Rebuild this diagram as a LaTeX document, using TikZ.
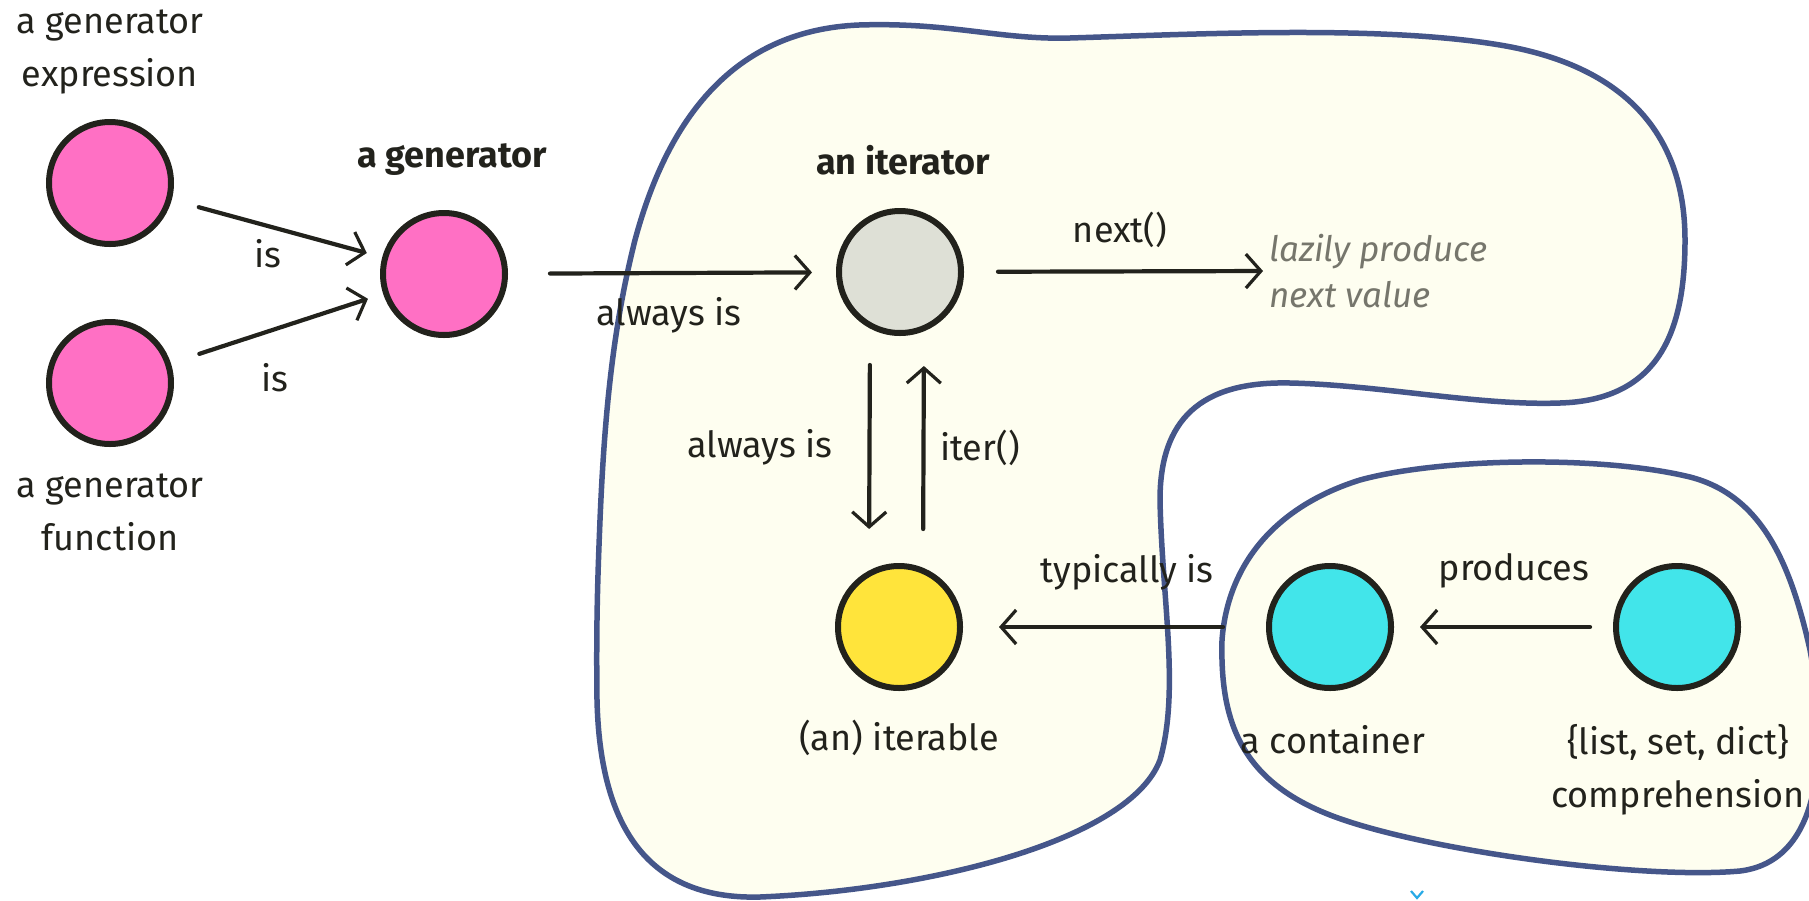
\documentclass[tikz,border=0pt]{standalone}
\usepackage{fontspec}
\setmainfont{Fira Sans}
\usetikzlibrary{arrows.meta}

\definecolor{inkc}{RGB}{34,34,28}
\definecolor{pinkc}{RGB}{255,112,196}
\definecolor{greyc}{RGB}{222,224,214}
\definecolor{yellowc}{RGB}{255,228,59}
\definecolor{cyanc}{RGB}{66,229,234}
\definecolor{blobfill}{RGB}{254,254,240}
\definecolor{blobline}{RGB}{69,86,138}
\definecolor{notec}{RGB}{118,118,108}
\definecolor{markc}{RGB}{40,170,230}

\tikzset{
  blob/.style={draw=blobline, fill=blobfill, line width=5.5pt},
  dot/.style={circle, draw=inkc, line width=6pt, minimum size=122pt, inner sep=0pt},
  lbl/.style={text=inkc, font=\fontsize{36}{53}\selectfont, align=center, inner sep=0pt},
  blbl/.style={lbl, font=\fontsize{36}{53}\selectfont\bfseries},
  note/.style={text=notec, font=\fontsize{35}{46}\selectfont\itshape, align=left, inner sep=0pt, anchor=west},
  arr/.style={draw=inkc, line width=4.2pt, line cap=round,
    -{Straight Barb[length=15pt, width=34pt, line width=3.2pt]}}
}

\begin{document}
\begin{tikzpicture}[x=1pt, y=-1pt]
  \useasboundingbox (0,0) rectangle (1809,900);
  \clip (0,0) rectangle (1809,900);

  % iterator region
  \draw[blob] (600,520)
    .. controls (605,400) and (615,320) .. (635,240)
    .. controls (670,110) and (740,30) .. (859,25)
    .. controls (950,22) and (1000,40) .. (1070,38)
    .. controls (1200,34) and (1380,25) .. (1500,45)
    .. controls (1620,65) and (1685,130) .. (1685,240)
    .. controls (1685,330) and (1660,400) .. (1560,403)
    .. controls (1480,406) and (1380,385) .. (1290,383)
    .. controls (1200,381) and (1160,420) .. (1160,500)
    .. controls (1162,600) and (1180,690) .. (1160,760)
    .. controls (1130,840) and (930,890) .. (760,897)
    .. controls (650,900) and (600,830) .. (597,700)
    .. controls (596,620) and (598,570) .. (600,520) -- cycle;

  % container region
  \draw[blob] (1222,640)
    .. controls (1228,560) and (1280,505) .. (1360,480)
    .. controls (1440,458) and (1600,455) .. (1690,477)
    .. controls (1760,495) and (1790,560) .. (1810,650)
    .. controls (1825,730) and (1830,860) .. (1740,871)
    .. controls (1640,880) and (1420,850) .. (1330,815)
    .. controls (1240,780) and (1220,720) .. (1222,640) -- cycle;

  % small mark at the lower edge
  \draw[markc, line width=2.2pt] (1411,891) -- (1417,898) -- (1423,891);

  % nodes
  \node[dot, fill=pinkc]   (ge)    at (110,183) {};
  \node[dot, fill=pinkc]   (gf)    at (110,383) {};
  \node[dot, fill=pinkc]   (gen)   at (444,274) {};
  \node[dot, fill=greyc]   (iter)  at (900,272) {};
  \node[dot, fill=yellowc] (itb)   at (899,627) {};
  \node[dot, fill=cyanc]   (cont)  at (1330,627) {};
  \node[dot, fill=cyanc]   (comp)  at (1677,627) {};

  % node captions
  \node[lbl]  (gelbl)   at (110,52)  {a generator\\expression};
  \node[lbl]  (gflbl)   at (110,512) {a generator\\function};
  \node[blbl] (genlbl)  at (452,160) {a generator};
  \node[blbl] (iterlbl) at (903,160) {an iterator};
  \node[lbl]  (itblbl)  at (899,738) {(an) iterable};
  \node[lbl]  (contlbl) at (1333,740) {a container};
  \node[lbl]  (complbl) at (1678,770) {\{list, set, dict\}\\comprehension};
  \node[note] (lazy)    at (1269,271) {lazily produce\\next value};

  % connectors
  \draw[arr, shorten <=28pt, shorten >=16pt] (ge) -- (gen);
  \draw[arr, shorten <=30pt, shorten >=16pt] (gf) -- (gen);
  \draw[arr, shorten <=42pt, shorten >=24pt] (gen) -- (iter);
  \draw[arr, shorten <=34pt, shorten >=6pt]  (iter) -- (lazy.west);
  \draw[arr, shorten <=29pt, shorten >=34pt]
    ([xshift=-30pt]iter.south) -- ([xshift=-30pt]itb.north);
  \draw[arr, shorten <=34pt, shorten >=30pt]
    ([xshift=24pt]itb.north) -- ([xshift=24pt]iter.south);
  \draw[arr, shorten <=43pt, shorten >=36pt] (cont) -- (itb);
  \draw[arr, shorten <=23pt, shorten >=26pt] (comp) -- (cont);

  % connector labels
  \node[lbl] (is1)   at (268,254) {is};
  \node[lbl] (is2)   at (275,378) {is};
  \node[lbl] (alw1)  at (669,315) {always is};
  \node[lbl] (nxt)   at (1120,230) {next()};
  \node[lbl] (alw2)  at (760,447) {always is};
  \node[lbl] (itr)   at (980,448) {iter()};
  \node[lbl] (typ)   at (1127,572) {typically is};
  \node[lbl] (prod)  at (1514,571) {produces};
\end{tikzpicture}
\end{document}
